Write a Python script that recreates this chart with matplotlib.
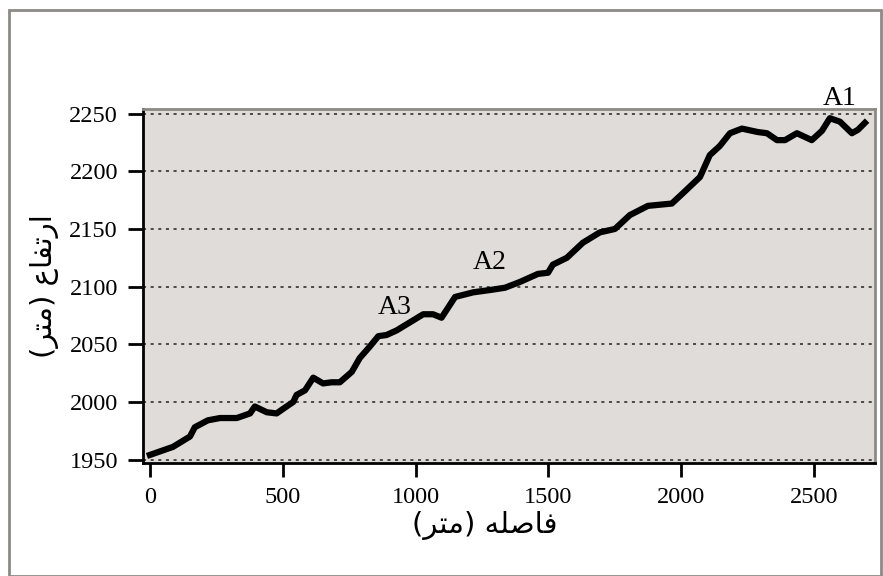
import matplotlib.pyplot as plt
from matplotlib.patches import Rectangle

# distance (m) and elevation (m)
distance = [0, 87, 151, 169, 218, 264, 327, 377, 395, 440, 477, 508, 540, 552, 584,
            615, 652, 684, 715, 760, 790, 828, 860, 891, 929, 979, 1029, 1066, 1098,
            1149, 1217, 1280, 1337, 1393, 1461, 1499, 1517, 1570, 1630, 1694, 1751,
            1807, 1875, 1965, 2007, 2071, 2108, 2146, 2184, 2229, 2289, 2323, 2361,
            2391, 2436, 2492, 2530, 2560, 2598, 2643, 2666, 2692]
elevation = [1954, 1961, 1970, 1978, 1984, 1986, 1986, 1990, 1996, 1991, 1990, 1995,
             2000, 2006, 2010, 2021, 2016, 2017, 2017, 2026, 2038, 2048, 2057, 2058,
             2062, 2069, 2076, 2076, 2073, 2091, 2095, 2097, 2099, 2104, 2111, 2112,
             2119, 2125, 2138, 2147, 2150, 2162, 2170, 2172, 2181, 2195, 2214, 2222,
             2233, 2237, 2234, 2233, 2227, 2227, 2233, 2227, 2235, 2246, 2243, 2233,
             2236, 2242]

xticks = [0, 500, 1000, 1500, 2000, 2500]
yticks = [1950, 2000, 2050, 2100, 2150, 2200, 2250]

point_names = ['A1', 'A2', 'A3']
point_x = [2598, 1280, 922]
point_y = [2263, 2121, 2082]

# Persian labels in visual order (presentation forms, since no shaping)
xlabel = "(\uFEAE\uFE98\uFEE3) \uFEEA\uFEE0\uFEBB\uFE8E\uFED3"
ylabel = "(\uFEAE\uFE98\uFEE3) \uFEC9\uFE8E\uFED4\uFE97\uFEAD\uFE8D"

plt.rcParams['font.family'] = ['Liberation Serif', 'DejaVu Sans']

fig = plt.figure(figsize=(8.83, 5.76), dpi=100)
ax = fig.add_axes([143/883, 1 - 463/576, (875-143)/883, (463-109)/576])
ax.set_facecolor('#dfdcd9')

ax.plot(distance, elevation, color='black', lw=4.5, solid_joinstyle='round', zorder=3)

for n, px, py in zip(point_names, point_x, point_y):
    ax.text(px, py, n, fontsize=20, ha='center', va='center', clip_on=False)

ax.set_xlim(-26, 2730)
ax.set_ylim(1947, 2254)
ax.set_xticks(xticks)
ax.set_yticks(yticks)
ax.tick_params(labelsize=17.5, length=10, width=2, direction='out')
ax.tick_params(axis='x', pad=7)
ax.tick_params(axis='y', length=11, pad=7)
ax.grid(axis='y', linestyle=(0, (2, 3)), color='#222222', lw=1.1)
ax.set_axisbelow(True)

for s in ['left', 'bottom']:
    ax.spines[s].set_linewidth(2)
    ax.spines[s].set_color('black')
for s in ['top', 'right']:
    ax.spines[s].set_linewidth(2)
    ax.spines[s].set_color('#8c8a85')

ax.set_xlabel(xlabel, family=['DejaVu Sans'], fontsize=21)
ax.xaxis.set_label_coords(0.467, -0.135)
ax.set_ylabel(ylabel, family=['DejaVu Sans'], fontsize=21)
ax.yaxis.set_label_coords(-0.115, 0.5)

fig.patches.append(Rectangle((9/883, 0), 872/883, 1 - 10/576, transform=fig.transFigure,
                             fill=False, edgecolor='#8c8a85', lw=2))

fig.savefig('out.png', dpi=100)
